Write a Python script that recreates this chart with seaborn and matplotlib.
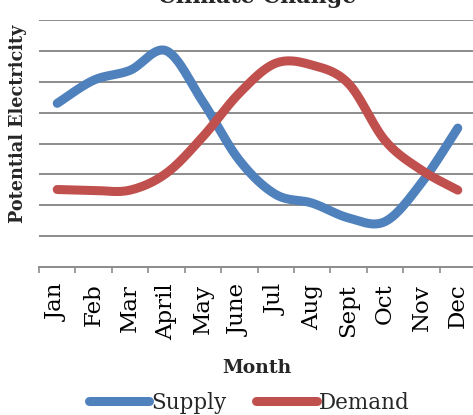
import numpy as np
import pandas as pd
import matplotlib
matplotlib.use("Agg")
import matplotlib.pyplot as plt
from matplotlib.lines import Line2D
import seaborn as sns

months = ["Jan", "Feb", "Mar", "April", "May", "June", "Jul", "Aug",
          "Sept", "Oct", "Nov", "Dec"]
supply = [5.3, 6.05, 6.37, 7.0, 5.35, 3.46, 2.35, 2.07, 1.59, 1.47, 2.72, 4.5]
demand = [2.51, 2.48, 2.49, 3.04, 4.22, 5.63, 6.6, 6.54, 5.94, 4.1, 3.14, 2.49]

BLUE = "#4F81BD"
RED = "#C0504D"
GRID = "#8C8C8C"

sns.set_theme(style="white")
plt.rcParams["font.family"] = ["DejaVu Serif"]


def smooth(values, steps=30):
    """Catmull-Rom (Excel-like) smoothing for rendering the line."""
    p = np.asarray(values, float)
    n = len(p)
    xs, ys = [], []
    for i in range(n - 1):
        p0 = p[i - 1] if i > 0 else p[i]
        p1, p2 = p[i], p[i + 1]
        p3 = p[i + 2] if i + 2 < n else p[i + 1]
        x0 = i - 1 if i > 0 else i
        x3 = i + 2 if i + 2 < n else i + 1
        t = np.linspace(0, 1, steps, endpoint=(i == n - 2))
        c1y = p1 + (p2 - p0) / 6.0
        c2y = p2 - (p3 - p1) / 6.0
        c1x = i + (i + 1 - x0) / 6.0
        c2x = i + 1 - (x3 - i) / 6.0
        bx = (1 - t) ** 3 * i + 3 * (1 - t) ** 2 * t * c1x + 3 * (1 - t) * t ** 2 * c2x + t ** 3 * (i + 1)
        by = (1 - t) ** 3 * p1 + 3 * (1 - t) ** 2 * t * c1y + 3 * (1 - t) * t ** 2 * c2y + t ** 3 * p2
        xs.extend(bx)
        ys.extend(by)
    return np.array(xs), np.array(ys)


fig = plt.figure(figsize=(4.73, 4.15), dpi=100)
ax = fig.add_axes([39 / 473, 1 - 267 / 415, 437 / 473, 247 / 415])

for name, vals, col in [("Supply", supply, BLUE), ("Demand", demand, RED)]:
    sx, sy = smooth(vals)
    df = pd.DataFrame({"x": sx, "y": sy})
    sns.lineplot(data=df, x="x", y="y", ax=ax, color=col, lw=6.5,
                 sort=False, solid_capstyle="round", zorder=3)

ax.set_xlim(-0.5, len(months) - 0.5)
ax.set_ylim(0, 8)
ax.set_yticks(np.arange(1, 9))
ax.set_yticklabels([])
ax.tick_params(axis="y", length=0)
ax.yaxis.grid(True, color=GRID, lw=1.4)
ax.xaxis.grid(False)

ax.set_xticks(np.arange(len(months)))
ax.set_xticklabels(months, rotation=90, fontsize=16.5)
ax.set_xticks(np.arange(len(months) + 1) - 0.5, minor=True)
ax.tick_params(axis="x", which="major", length=0, pad=12, colors="black")
ax.tick_params(axis="x", which="minor", length=4.5, width=1.2, color=GRID,
               direction="out", bottom=True)

for s in ["left", "right", "top"]:
    ax.spines[s].set_visible(False)
ax.spines["bottom"].set_color(GRID)
ax.spines["bottom"].set_linewidth(1.4)

ax.set_xlabel("")
ax.set_ylabel("")

fig.text(257 / 473, 1 - 368 / 415, "Month", ha="center", va="center",
         fontsize=13.5, fontweight="bold")
fig.text(18 / 473, 1 - 124 / 415, "Potential Electricity", ha="center",
         va="center", rotation=90, fontsize=12.7, fontweight="bold")
fig.text(257 / 473, 1 - 3 / 415, "Climate Change", ha="center",
         va="baseline", fontsize=16, fontweight="bold")

handles = [Line2D([0], [0], color=BLUE, lw=6.5, solid_capstyle="round"),
           Line2D([0], [0], color=RED, lw=6.5, solid_capstyle="round")]
fig.legend(handles, ["Supply", "Demand"], loc="center",
           bbox_to_anchor=(249 / 473, 1 - 403 / 415), ncol=2, frameon=False,
           fontsize=15.5, handlelength=2.8, handletextpad=0.1,
           columnspacing=1.4, borderpad=0)

fig.savefig("out.png", dpi=100)
